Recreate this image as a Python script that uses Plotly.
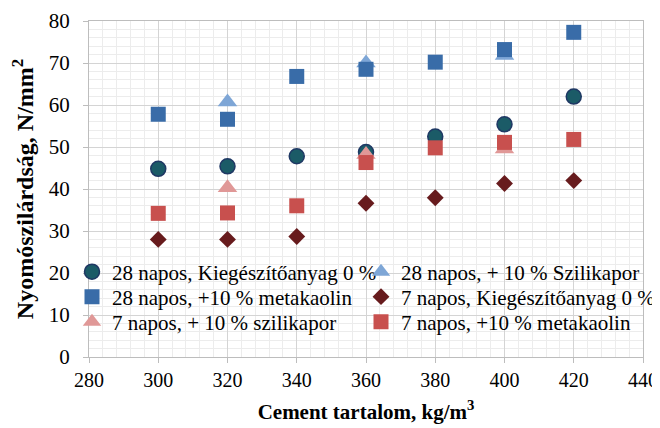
import plotly.graph_objects as go

cement = [300, 320, 340, 360, 380, 400, 420]
d28_base = [44.8, 45.4, 47.8, 48.8, 52.5, 55.4, 62.0]
d28_meta = [57.8, 56.6, 66.8, 68.5, 70.2, 73.2, 77.3]
d7_base = [28.0, 28.0, 28.7, 36.6, 37.9, 41.3, 42.0]
d7_meta = [34.2, 34.3, 36.0, 46.3, 49.8, 51.1, 51.8]
szili_x = [320, 360, 400]
d28_szili = [60.7, 70.0, 71.8]
d7_szili = [40.3, 48.2, 49.5]

names = [
    "28 napos, Kiegészítőanyag 0 %",
    "28 napos, + 10 % Szilikapor",
    "28 napos, +10 % metakaolin",
    "7 napos, Kiegészítőanyag 0 %",
    "7 napos, + 10 % szilikapor",
    "7 napos, +10 % metakaolin",
]

FONT = "Liberation Serif"
legs = ["legend", "legend2", "legend3", "legend4", "legend5", "legend6"]

fig = go.Figure()
fig.add_trace(go.Scatter(x=cement, y=d28_base, mode="markers", name=names[0], legend=legs[0],
    marker=dict(symbol="circle", size=15, color="#1b5b67", line=dict(color="#1f3864", width=1.5))))
fig.add_trace(go.Scatter(x=szili_x, y=d28_szili, mode="markers", name=names[1], legend=legs[1],
    marker=dict(symbol="triangle-up", size=17, color="#7ea6d6", line=dict(width=0))))
fig.add_trace(go.Scatter(x=cement, y=d28_meta, mode="markers", name=names[2], legend=legs[2],
    marker=dict(symbol="square", size=15, color="#396ca8", line=dict(width=0))))
fig.add_trace(go.Scatter(x=cement, y=d7_base, mode="markers", name=names[3], legend=legs[3],
    marker=dict(symbol="diamond", size=13, color="#671b1d", line=dict(width=0))))
fig.add_trace(go.Scatter(x=szili_x, y=d7_szili, mode="markers", name=names[4], legend=legs[4],
    marker=dict(symbol="triangle-up", size=17, color="#e09897", line=dict(width=0))))
fig.add_trace(go.Scatter(x=cement, y=d7_meta, mode="markers", name=names[5], legend=legs[5],
    marker=dict(symbol="square", size=15, color="#c8504e", line=dict(width=0))))

# The page body has an 8px margin, so the figure is made 8px smaller and
# all page positions are offset by 8px.
OFF = 8
W, H = 660 - OFF, 428 - OFF
# plot area in page pixels: left 89, right 643, top 21, bottom 357
PL, PR, PT, PB = 89, 643, 21, 357
def px_x(p):
    return (p - PL) / (PR - PL)
def px_y(p):
    return 1 - (p - PT) / (PB - PT)

leg_common = dict(orientation="h", xref="paper", yref="paper", xanchor="left", yanchor="middle",
                  bgcolor="rgba(0,0,0,0)", font=dict(family=FONT, size=21, color="#000"),
                  itemwidth=30)
col_x = [px_x(72), px_x(361)]
row_y = [px_y(272), px_y(297), px_y(322)]

layout_legs = {}
for i, lg in enumerate(legs):
    layout_legs[lg] = dict(leg_common, x=col_x[i % 2], y=row_y[i // 2])

fig.update_layout(
    width=W, height=H,
    margin=dict(l=PL - OFF, r=660 - PR, t=PT - OFF, b=428 - PB, autoexpand=False),
    paper_bgcolor="white", plot_bgcolor="white",
    font=dict(family=FONT, size=20, color="#000"),
    showlegend=True,
    **layout_legs,
    xaxis=dict(range=[280, 440], dtick=20, tick0=280,
               showgrid=True, gridcolor="#d4d4d4", gridwidth=1,
               minor=dict(dtick=4, showgrid=True, gridcolor="#ececec", gridwidth=1),
               showline=True, linecolor="#bdbdbd", linewidth=1, mirror=True,
               ticks="outside", ticklen=5, tickcolor="#bdbdbd",
               tickfont=dict(family=FONT, size=20),
               zeroline=False,
               title=dict(text="<b>Cement tartalom, kg/m<sup>3</sup></b>",
                          font=dict(family=FONT, size=21), standoff=14)),
    yaxis=dict(range=[0, 80], dtick=10,
               showgrid=True, gridcolor="#d4d4d4", gridwidth=1,
               minor=dict(dtick=2, showgrid=True, gridcolor="#ececec", gridwidth=1),
               showline=True, linecolor="#bdbdbd", linewidth=1, mirror=True,
               ticks="outside", ticklen=5, tickcolor="#bdbdbd",
               tickfont=dict(family=FONT, size=21), ticklabelstandoff=9,
               zeroline=False,
               title=dict(text="<b>Nyomószilárdság, N/mm<sup>2</sup></b>",
                          font=dict(family=FONT, size=24), standoff=12)),
)

fig.write_html("out.html")
